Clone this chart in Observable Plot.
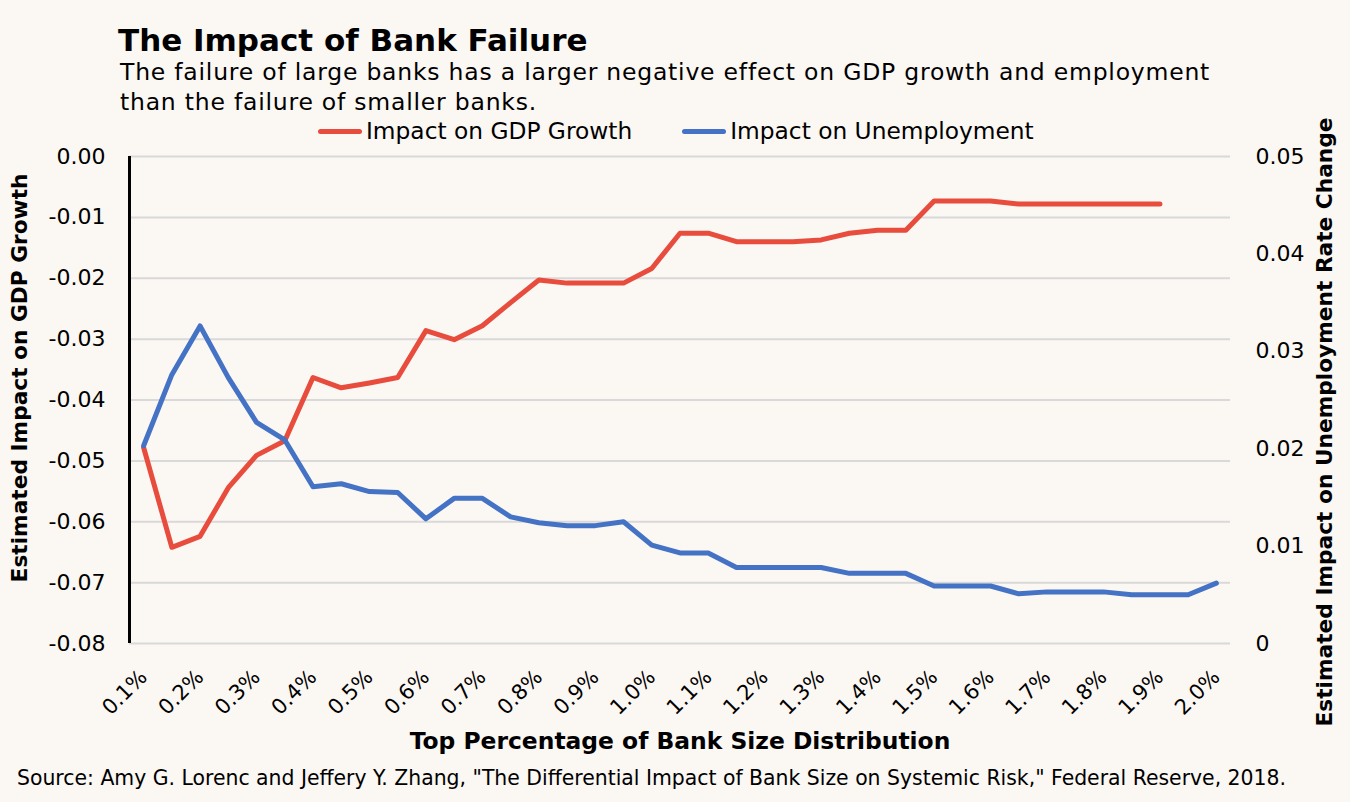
<!DOCTYPE html>
<html>
<head>
<meta charset="utf-8">
<script src="https://cdn.jsdelivr.net/npm/d3@7"></script>
<script src="https://cdn.jsdelivr.net/npm/@observablehq/plot@0.6"></script>
<style>
  html, body { margin: 0; padding: 0; background: #FBF7F3; }
  #page { position: relative; width: 1350px; height: 802px; overflow: hidden; background: #FBF7F3;
          font-family: "DejaVu Sans", sans-serif; color: #000; }
  #title { position: absolute; left: 118px; top: 22px; font-size: 31px; font-weight: 700; white-space: nowrap; line-height: 36px; }
  #subtitle { position: absolute; left: 120px; top: 57px; font-size: 23.5px; letter-spacing: 0.78px; line-height: 30px; white-space: nowrap; }
  #legend { position: absolute; left: 318px; top: 115px; display: flex; align-items: center; font-size: 23.3px; white-space: nowrap; line-height: 32px; }
  .sw { display: inline-block; width: 44px; height: 5px; border-radius: 3px; margin-right: 4px; }
  .item { display: flex; align-items: center; margin-right: 50px; }
  #chart { position: absolute; left: 0; top: 140px; }
  #caption { position: absolute; left: 17px; top: 766px; font-size: 20.4px; white-space: nowrap; }
</style>
</head>
<body>
<div id="page">
  <div id="title"></div>
  <div id="subtitle"></div>
  <div id="legend"></div>
  <div id="chart"></div>
  <div id="caption"></div>
</div>
<script>
// ---- Data ----
const titleText = "The Impact of Bank Failure";
const subtitleLines = ["The failure of large banks has a larger negative effect on GDP growth and employment",
                       "than the failure of smaller banks."];
const captionText = "Source: Amy G. Lorenc and Jeffery Y. Zhang, \"The Differential Impact of Bank Size on Systemic Risk,\" Federal Reserve, 2018.";
const seriesNames = ["Impact on GDP Growth", "Impact on Unemployment"];
const seriesColors = ["#E84C3D", "#4472C4"];

// Top percentage of bank size distribution (%)
const topPct = [0.1, 0.15, 0.2, 0.25, 0.3, 0.35, 0.4, 0.45, 0.5, 0.55,
                0.6, 0.65, 0.7, 0.75, 0.8, 0.85, 0.9, 0.95, 1.0, 1.05,
                1.1, 1.15, 1.2, 1.25, 1.3, 1.35, 1.4, 1.45, 1.5, 1.55,
                1.6, 1.65, 1.7, 1.75, 1.8, 1.85, 1.9, 1.95, 2.0];

// Impact on GDP growth (left axis), 0.1% .. 1.9%
const gdpGrowth = [-0.0478, -0.0642, -0.0624, -0.0544, -0.0491, -0.0467, -0.0363, -0.0380, -0.0372, -0.0363,
                   -0.0286, -0.0301, -0.0278, -0.0240, -0.0203, -0.0208, -0.0208, -0.0208, -0.0184, -0.0126,
                   -0.0126, -0.0140, -0.0140, -0.0140, -0.0137, -0.0126, -0.0121, -0.0121, -0.0073, -0.0073,
                   -0.0073, -0.0078, -0.0078, -0.0078, -0.0078, -0.0078, -0.0078];

// Impact on unemployment rate change (right axis), 0.1% .. 2.0%
const unemployment = [0.0203, 0.0276, 0.0326, 0.0273, 0.0227, 0.0209, 0.0161, 0.0164, 0.0156, 0.0155,
                      0.0128, 0.0149, 0.0149, 0.0130, 0.0124, 0.0121, 0.0121, 0.0125, 0.0101, 0.0093,
                      0.0093, 0.0078, 0.0078, 0.0078, 0.0078, 0.0072, 0.0072, 0.0072, 0.0059, 0.0059,
                      0.0059, 0.0051, 0.0053, 0.0053, 0.0053, 0.0050, 0.0050, 0.0050, 0.0062];

const xTicks = [0.1, 0.2, 0.3, 0.4, 0.5, 0.6, 0.7, 0.8, 0.9, 1.0,
                1.1, 1.2, 1.3, 1.4, 1.5, 1.6, 1.7, 1.8, 1.9, 2.0];
const leftTicks = [0, -0.01, -0.02, -0.03, -0.04, -0.05, -0.06, -0.07, -0.08];
const rightTicks = [0, 0.01, 0.02, 0.03, 0.04, 0.05];

const xTitle = "Top Percentage of Bank Size Distribution";
const leftTitle = "Estimated Impact on GDP Growth";
const rightTitle = "Estimated Impact on Unemployment Rate Change";

// ---- Dual-axis mapping (right domain [0,0.05] onto left domain [-0.08,0]) ----
const leftDomain = [-0.08, 0];
const rightDomain = [0, 0.05];
const toLeft = u => leftDomain[0] + (u - rightDomain[0]) / (rightDomain[1] - rightDomain[0]) * (leftDomain[1] - leftDomain[0]);
const fromLeft = v => rightDomain[0] + (v - leftDomain[0]) / (leftDomain[1] - leftDomain[0]) * (rightDomain[1] - rightDomain[0]);

const gdpData = gdpGrowth.map((v, i) => ({x: topPct[i], y: v}));
const unData = unemployment.map((v, i) => ({x: topPct[i], y: toLeft(v)}));

// ---- Text ----
document.getElementById("title").textContent = titleText;
const sub = document.getElementById("subtitle");
subtitleLines.forEach(l => { const d = document.createElement("div"); d.textContent = l; sub.appendChild(d); });
document.getElementById("caption").textContent = captionText;
const legend = document.getElementById("legend");
seriesNames.forEach((n, i) => {
  const it = document.createElement("div"); it.className = "item";
  const sw = document.createElement("span"); sw.className = "sw"; sw.style.background = seriesColors[i];
  const t = document.createElement("span"); t.textContent = n;
  it.appendChild(sw); it.appendChild(t); legend.appendChild(it);
});

const font = "DejaVu Sans, sans-serif";
const chart = Plot.plot({
  width: 1350,
  height: 620,
  marginLeft: 129,
  marginRight: 120,
  marginTop: 16,
  marginBottom: 117,
  style: {background: "transparent", fontFamily: font, fontSize: "20px", color: "#000", overflow: "visible"},
  x: {type: "linear", domain: [0.075, 2.025]},
  y: {domain: leftDomain},
  marks: [
    Plot.gridY(leftTicks, {stroke: "#D9D9D9", strokeOpacity: 1, strokeWidth: 2}),
    Plot.axisY(leftTicks, {anchor: "left", tickSize: 0, tickPadding: 24, fontSize: 22, letterSpacing: 1.8,
      tickFormat: d => d.toFixed(2), label: null}),
    Plot.axisY(rightTicks.map(toLeft), {anchor: "right", tickSize: 0, tickPadding: 25, fontSize: 22, letterSpacing: 1.8,
      tickFormat: d => { const r = Math.round(fromLeft(d) * 100) / 100; return r === 0 ? "0" : r.toFixed(2); }, label: null}),
    Plot.axisX(xTicks, {anchor: "bottom", tickSize: 0, tickPadding: 30, tickRotate: -45, fontSize: 21, letterSpacing: 0.5,
      tickFormat: d => d.toFixed(1) + "%", label: null}),
    Plot.ruleX([0.075], {stroke: "#000", strokeWidth: 3}),
    Plot.lineY(gdpData, {x: "x", y: "y", stroke: seriesColors[0], strokeWidth: 5, strokeLinejoin: "round", strokeLinecap: "round"}),
    Plot.lineY(unData, {x: "x", y: "y", stroke: seriesColors[1], strokeWidth: 5, strokeLinejoin: "round", strokeLinecap: "round"}),
    Plot.text([leftTitle], {text: d => d, frameAnchor: "left", dx: -109, dy: -22, rotate: -90,
      fontWeight: 700, fontSize: 21.7, textAnchor: "middle", lineAnchor: "middle", fill: "#000"}),
    Plot.text([rightTitle], {text: d => d, frameAnchor: "right", dx: 95, dy: 22, rotate: -90,
      fontWeight: 700, fontSize: 21.7, textAnchor: "middle", lineAnchor: "middle", fill: "#000"}),
    Plot.text([xTitle], {text: d => d, frameAnchor: "bottom", dy: 98,
      fontWeight: 700, fontSize: 23.4, textAnchor: "middle", lineAnchor: "middle", fill: "#000"})
  ]
});
document.getElementById("chart").appendChild(chart);
</script>
</body>
</html>
